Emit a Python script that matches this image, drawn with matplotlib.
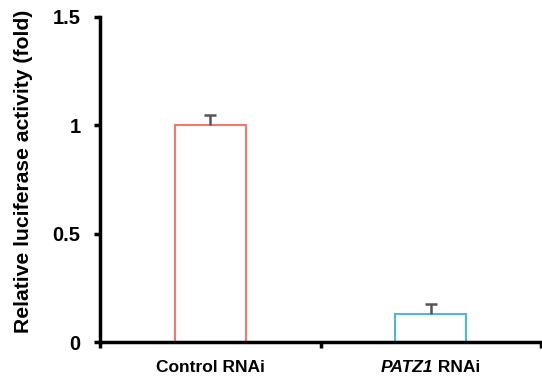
import matplotlib
matplotlib.use("Agg")
import matplotlib.pyplot as plt
from matplotlib.offsetbox import TextArea, HPacker, AnnotationBbox

categories = ["Control RNAi", "PATZ1 RNAi"]
label_parts = [[("Control RNAi", "normal")], [("PATZ1", "italic"), (" RNAi", "normal")]]
values = [1.0, 0.13]
errors = [0.05, 0.045]
colors = ["#F8766D", "#4FB8D9"]

plt.rcParams['font.family'] = ['Liberation Sans', 'DejaVu Sans']
plt.rcParams['font.weight'] = 'bold'

fig = plt.figure(figsize=(5.42, 3.83), dpi=100)
ax = fig.add_axes([100/542, 41/383, 441/542, 325/383])

x = list(range(len(categories)))
ax.bar(x, values, width=0.32, facecolor='white', edgecolor=colors, linewidth=1.5, zorder=2)
tops = [v + e for v, e in zip(values, errors)]
cap = 0.027
ax.vlines(x, values, tops, colors='#555555', linewidth=1.8, zorder=3)
ax.hlines(tops, [xi - cap for xi in x], [xi + cap for xi in x], colors='#555555', linewidth=1.8, zorder=3)

ax.set_xlim(-0.5, 1.5)
ax.set_ylim(0, 1.5)
ax.set_yticks([0, 0.5, 1, 1.5])
ax.set_yticklabels(['0', '0.5', '1', '1.5'], fontsize=14.5, fontweight='bold')
ax.set_xticks([-0.5, 0.5, 1.5])
ax.set_xticklabels([])
ax.tick_params(axis='x', which='major', length=4, width=2.5, direction='out')
ax.tick_params(axis='y', length=4, width=2.5, direction='out', pad=10)

for xi, parts in zip(x, label_parts):
    areas = [TextArea(t, textprops=dict(fontsize=12.5, fontweight='bold', fontstyle=st,
                                        family=['Liberation Sans', 'DejaVu Sans']))
             for t, st in parts]
    box = HPacker(children=areas, align='baseline', pad=0, sep=0)
    ab = AnnotationBbox(box, (xi, 0), xycoords=('data', 'axes fraction'),
                        xybox=(0, -13), boxcoords='offset points',
                        box_alignment=(0.5, 1), frameon=False, pad=0,
                        annotation_clip=False)
    ax.add_artist(ab)

for s in ['top', 'right']:
    ax.spines[s].set_visible(False)
for s in ['left', 'bottom']:
    ax.spines[s].set_linewidth(2.5)
ax.set_ylabel("Relative luciferase activity (fold)", fontsize=15.2, fontweight='bold')
ax.yaxis.set_label_coords(-0.152, 0.526)

fig.savefig("out.png", dpi=100)
